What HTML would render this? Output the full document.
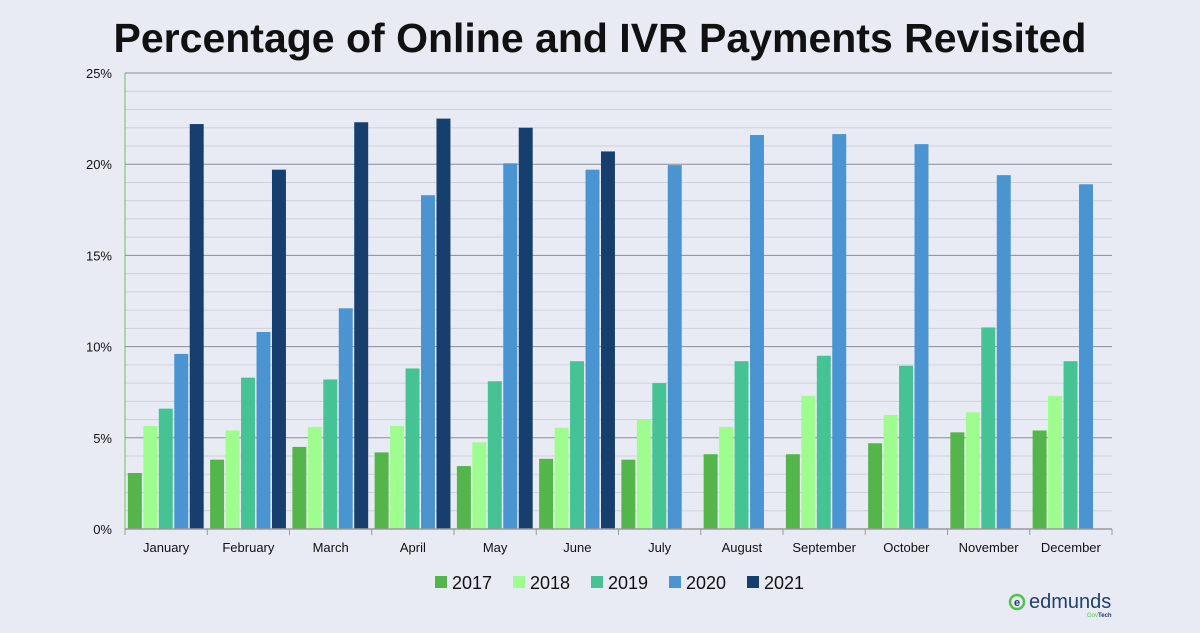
<!DOCTYPE html>
<html><head><meta charset="utf-8"><style>
body{margin:0;width:1200px;height:628px;background:#e9ebf4;font-family:"Liberation Sans",sans-serif;overflow:hidden}
</style></head><body>
<svg width="1200" height="628" viewBox="0 0 1200 628">
<text x="600" y="52" text-anchor="middle" font-size="41" font-weight="bold" fill="#111">Percentage of Online and IVR Payments Revisited</text>
<g id="grid"></g><g id="bars"></g><g id="axes"></g><g id="legend"></g>
<g>
<circle cx="1017" cy="602" r="7" fill="none" stroke="#4cc34a" stroke-width="2.5"/>
<text x="1017" y="606" text-anchor="middle" font-size="11" font-weight="bold" fill="#1f3f6e">e</text>
<text x="1029" y="608" font-size="20" fill="#1f3f6e">edmunds</text>
<text x="1087" y="617" font-size="6" fill="#4cc34a">Gov<tspan fill="#1f3f6e" font-weight="bold">Tech</tspan></text>
</g>
</svg>
<script>
const categories=["January","February","March","April","May","June","July","August","September","October","November","December"];
const years=["2017","2018","2019","2020","2021"];
const s2017=[3.07,3.8,4.5,4.2,3.45,3.85,3.8,4.1,4.1,4.7,5.3,5.4];
const s2018=[5.65,5.4,5.6,5.65,4.75,5.55,6.0,5.6,7.3,6.25,6.4,7.3];
const s2019=[6.6,8.3,8.2,8.8,8.1,9.2,8.0,9.2,9.5,8.95,11.05,9.2];
const s2020=[9.6,10.8,12.1,18.3,20.05,19.7,19.95,21.6,21.65,21.1,19.4,18.9];
const s2021=[22.2,19.7,22.3,22.5,22.0,20.7,null,null,null,null,null,null];
const tickLabels=["0%","5%","10%","15%","20%","25%"];
const tickValues=[0,5,10,15,20,25];
const series=[s2017,s2018,s2019,s2020,s2021];
const colors=["#53b54a","#9efd8e","#46c394","#4a94d2","#163f6e"];
const NS="http://www.w3.org/2000/svg";
const X0=125,X1=1112,Y0=529,Y1=73,VMAX=25;
const catW=(X1-X0)/categories.length;
const y=v=>Y0-(v/VMAX)*(Y0-Y1);
function mk(t,a,p){const e=document.createElementNS(NS,t);for(const k in a)e.setAttribute(k,a[k]);p.appendChild(e);return e;}
const grid=document.getElementById('grid'),bars=document.getElementById('bars'),axes=document.getElementById('axes'),leg=document.getElementById('legend');
for(let v=1;v<=VMAX;v++){const l=mk('line',{x1:X0,x2:X1,y1:y(v),y2:y(v),stroke:v%5==0?'#8a8d96':'#cfd1d8','stroke-width':1},grid);

}
tickValues.forEach((v,i)=>{const t=mk('text',{x:X0-13,y:y(v)+5,'text-anchor':'end','font-size':13,fill:'#111'},axes);t.textContent=tickLabels[i];

});
const slot=catW*0.94/5;
categories.forEach((c,i)=>{
 const gx=X0+i*catW+catW*0.035;
 series.forEach((s,j)=>{if(s[i]==null)return;
  const r=mk('rect',{x:gx+j*slot,y:y(s[i]),width:slot-1.5,height:Y0-y(s[i]),fill:colors[j]},bars);
  
  });
 const t=mk('text',{x:X0+(i+0.5)*catW,y:552,'text-anchor':'middle','font-size':13,fill:'#111'},axes);t.textContent=c;
 
 
 const tk=mk('line',{x1:X0+i*catW,x2:X0+i*catW,y1:Y0,y2:Y0+6,stroke:'#999'},axes);
 
 
});
const tk=mk('line',{x1:X1,x2:X1,y1:Y0,y2:Y0+6,stroke:'#999'},axes);


const ax=mk('line',{x1:X0,x2:X0,y1:Y1,y2:Y0,stroke:'#6fbf5f','stroke-width':1},axes);


const bx=mk('line',{x1:X0,x2:X1,y1:Y0,y2:Y0,stroke:'#999','stroke-width':1.5},axes);


years.forEach((yr,j)=>{const lx=435+j*78;
 const g=mk('g',{},leg);
 
 
 mk('rect',{x:lx,y:576,width:12,height:12,fill:colors[j]},g);
 const t=mk('text',{x:lx+17,y:589,'font-size':18,fill:'#111'},g);t.textContent=yr;});
</script>
</body></html>
